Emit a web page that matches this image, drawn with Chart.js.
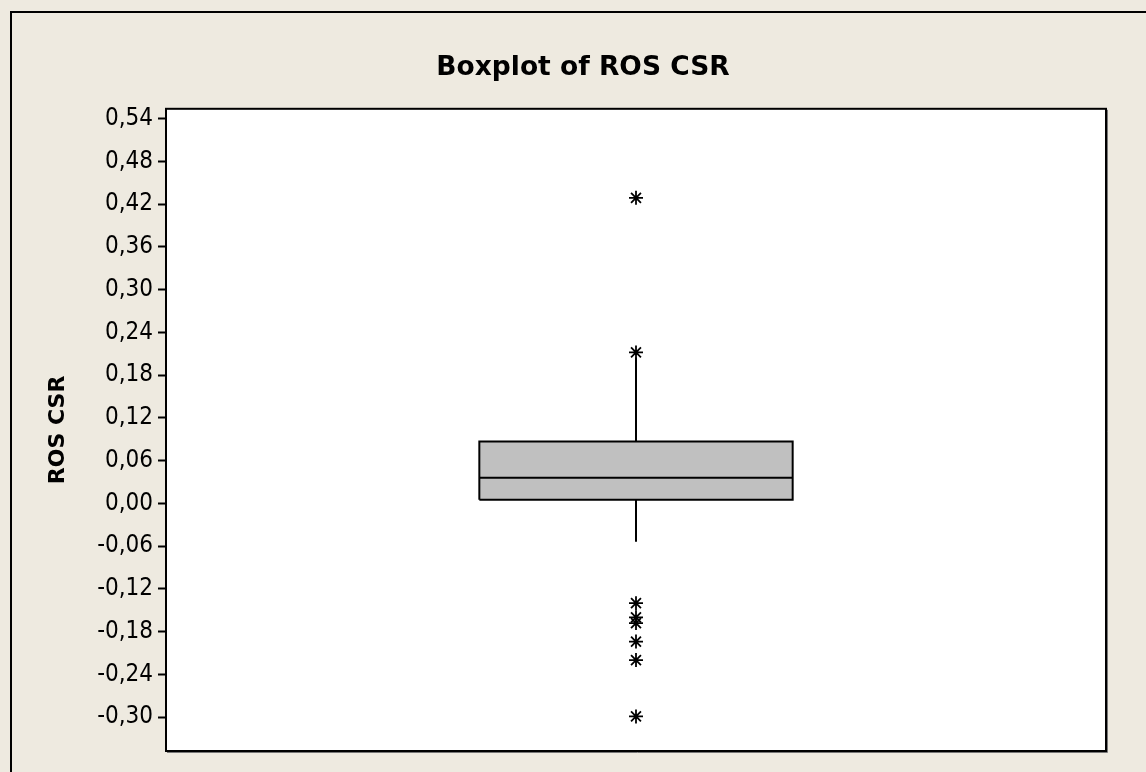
<!DOCTYPE html>
<html>
<head>
<meta charset="utf-8">
<title>Boxplot of ROS CSR</title>
<script src="https://cdn.jsdelivr.net/npm/chart.js@4.4.1/dist/chart.umd.min.js"></script>
<style>
    html, body { margin: 0; padding: 0; background: #EEEAE0; }
    #wrap { width: 1146px; height: 772px; }
</style>
</head>
<body>
<div id="wrap"><canvas id="boxplot" width="1146" height="772"></canvas></div>
<script>
// --- Dados (ROS CSR) ---
const chartTitle = 'Boxplot of ROS CSR';
const axisTitle = 'ROS CSR';
const quartiles = [0.005, 0.036, 0.087];      // Q1, mediana, Q3
const whiskers = [-0.054, 0.205];             // bigode inferior, superior
const outliers = [0.429, 0.212, -0.140, -0.160, -0.168, -0.194, -0.220, -0.299];
const yTicks = [0.54, 0.48, 0.42, 0.36, 0.30, 0.24, 0.18, 0.12, 0.06, 0.00,
                -0.06, -0.12, -0.18, -0.24, -0.30];

// posição horizontal da caixa (eixo x oculto de 0 a 3)
const boxLeft = 1, boxRight = 2, boxMid = 1.5;

const BG = '#EEEAE0';
const BOX_FILL = '#C0C0C0';
const tickFont = "'DejaVu Sans Condensed', 'DejaVu Sans', sans-serif";
const boldFont = "'DejaVu Sans', Verdana, sans-serif";

const [q1, med, q3] = quartiles;
const [wLow, wHigh] = whiskers;

// order maior = desenhado primeiro (fica por baixo)
const lineDs = (data, extra = {}) => Object.assign({
    data,
    borderColor: '#000',
    borderWidth: 2,
    pointRadius: 0,
    tension: 0,
    fill: false,
    order: 1,
}, extra);

// --- Plugin: fundo, moldura externa e moldura da área do gráfico ---
const framePlugin = {
    id: 'minitabFrame',
    beforeDraw(chart) {
        const { ctx, width, height, chartArea: a } = chart;
        ctx.save();
        ctx.fillStyle = BG;
        ctx.fillRect(0, 0, width, height);
        ctx.strokeStyle = '#000';
        ctx.lineWidth = 2;
        ctx.beginPath();
        ctx.moveTo(11, height + 5);
        ctx.lineTo(11, 12);
        ctx.lineTo(width + 5, 12);
        ctx.stroke();
        ctx.fillStyle = '#fff';
        ctx.fillRect(a.left, a.top, a.right - a.left, a.bottom - a.top);
        ctx.restore();
    },
    afterDatasetsDraw(chart) {
        const { ctx, chartArea: a } = chart;
        ctx.save();
        ctx.strokeStyle = '#777';
        ctx.lineWidth = 1;
        ctx.beginPath();
        ctx.moveTo(a.right + 1.5, a.top + 1);
        ctx.lineTo(a.right + 1.5, a.bottom + 1.5);
        ctx.lineTo(a.left + 1, a.bottom + 1.5);
        ctx.stroke();
        ctx.strokeStyle = '#000';
        ctx.lineWidth = 2;
        ctx.strokeRect(a.left, a.top, a.right - a.left, a.bottom - a.top);
        ctx.restore();
    }
};

const datasets = [
    // preenchimento da caixa (Q3 preenchido até Q1)
    lineDs([{ x: boxLeft, y: q3 }, { x: boxRight, y: q3 }],
           { borderWidth: 0, fill: '+1', backgroundColor: BOX_FILL, order: 10 }),
    lineDs([{ x: boxLeft, y: q1 }, { x: boxRight, y: q1 }], { borderWidth: 0, order: 10 }),
    // contorno da caixa
    lineDs([
        { x: boxLeft, y: q1 }, { x: boxRight, y: q1 }, { x: boxRight, y: q3 },
        { x: boxLeft, y: q3 }, { x: boxLeft, y: q1 }
    ]),
    // mediana
    lineDs([{ x: boxLeft, y: med }, { x: boxRight, y: med }]),
    // bigodes
    lineDs([{ x: boxMid, y: q3 }, { x: boxMid, y: wHigh }]),
    lineDs([{ x: boxMid, y: q1 }, { x: boxMid, y: wLow }]),
    // outliers (asteriscos)
    {
        data: outliers.map(v => ({ x: boxMid, y: v })),
        showLine: false,
        pointStyle: 'star',
        pointRadius: 7,
        borderColor: '#000',
        backgroundColor: '#000',
        borderWidth: 1.8,
        order: 0,
    }
];

new Chart(document.getElementById('boxplot'), {
    type: 'line',
    data: { datasets },
    plugins: [framePlugin],
    options: {
        responsive: false,
        animation: false,
        events: [],
        layout: { padding: { left: 20, right: 0, top: 0, bottom: 21 } },
        plugins: {
            legend: { display: false },
            tooltip: { enabled: false },
            title: {
                display: true,
                text: chartTitle,
                color: '#000',
                font: { family: boldFont, size: 26.5, weight: 'bold' },
                padding: { top: 52, bottom: 25 },
            },
        },
        scales: {
            x: { type: 'linear', min: 0, max: 3, display: false },
            y: {
                type: 'linear',
                position: 'left',
                min: -0.3476,
                max: 0.554,
                afterBuildTicks: s => { s.ticks = yTicks.map(value => ({ value })); },
                afterFit: s => { s.width = 146; },
                grid: {
                    drawOnChartArea: false,
                    drawTicks: true,
                    tickLength: 8,
                    tickWidth: 2,
                    tickColor: '#000',
                },
                border: { display: true, color: '#000', width: 2 },
                ticks: {
                    color: '#000',
                    padding: 5,
                    font: { family: tickFont, size: 24 },
                    callback: v => v.toFixed(2).replace('.', ','),
                },
                title: {
                    display: true,
                    text: axisTitle,
                    color: '#000',
                    font: { family: boldFont, size: 22, weight: 'bold' },
                    padding: { top: 25, bottom: 0 },
                },
            },
            yRight: {
                type: 'linear',
                position: 'right',
                display: true,
                grid: { display: false },
                border: { display: false },
                ticks: { display: false },
                afterFit: s => { s.width = 40; },
            },
        },
    },
});
</script>
</body>
</html>
